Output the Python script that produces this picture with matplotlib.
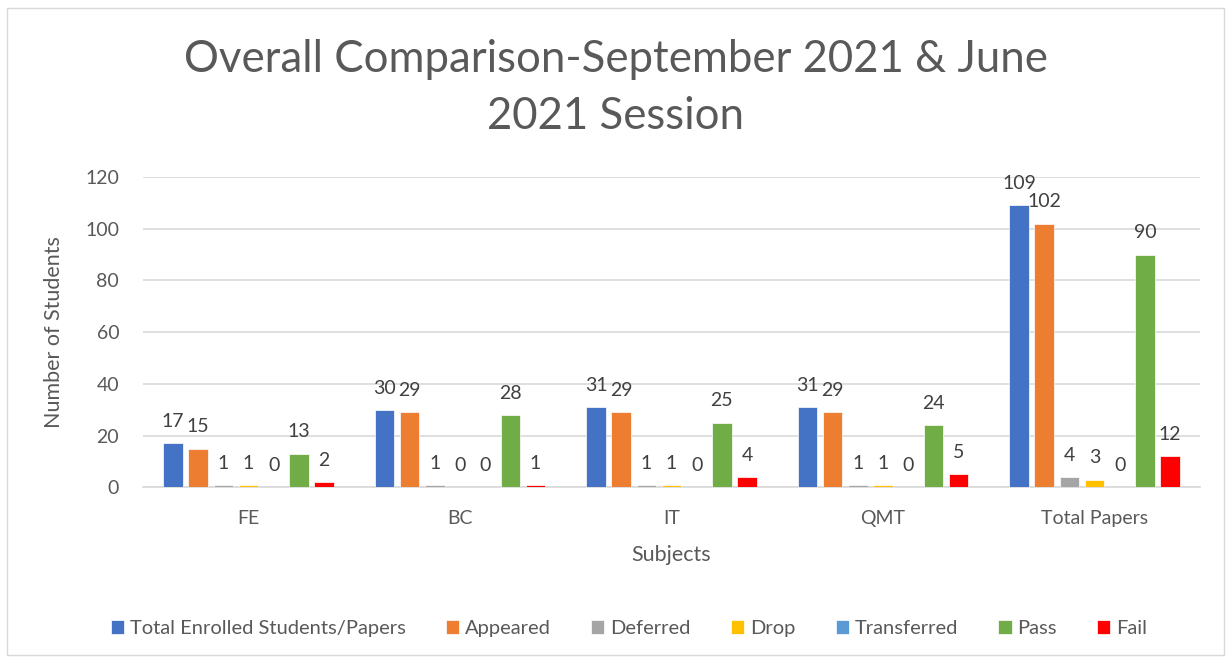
import matplotlib
matplotlib.use("Agg")
import matplotlib.pyplot as plt
import numpy as np
from matplotlib.patches import Rectangle

plt.rcParams['font.family'] = ['Lato', 'DejaVu Sans']

categories = ["FE", "BC", "IT", "QMT", "Total Papers"]
series_names = ["Total Enrolled Students/Papers", "Appeared", "Deferred", "Drop",
                "Transferred", "Pass", "Fail"]
enrolled = [17, 30, 31, 31, 109]
appeared = [15, 29, 29, 29, 102]
deferred = [1, 1, 1, 1, 4]
drop = [1, 0, 1, 1, 3]
transferred = [0, 0, 0, 0, 0]
passed = [13, 28, 25, 24, 90]
fail = [2, 1, 4, 5, 12]
yticks = [0, 20, 40, 60, 80, 100, 120]

series = [enrolled, appeared, deferred, drop, transferred, passed, fail]
colors = ["#4472C4", "#ED7D31", "#A5A5A5", "#FFC000", "#5B9BD5", "#70AD47", "#FF0000"]

fig = plt.figure(figsize=(12.31, 6.63), dpi=100)
fig.patches.append(Rectangle((0.006, 0.012), 0.988, 0.976, transform=fig.transFigure,
                             fill=False, edgecolor="#D9D9D9", linewidth=1))
ax = fig.add_axes([0.116, 0.265, 0.859, 0.468])

x = np.arange(len(categories))
step = 0.119
width = 0.092
for i, (vals, col, name) in enumerate(zip(series, colors, series_names)):
    pos = x + (i - 3) * step
    ax.bar(pos, vals, width, color=col, label=name, zorder=3,
           edgecolor="white", linewidth=0.5)
    for p, v in zip(pos, vals):
        ax.annotate(str(v), (p, v), xytext=(0, 9.5), textcoords="offset points",
                    ha="center", va="bottom", fontsize=14, color="#404040")

ax.set_ylim(0, 120)
ax.set_xlim(-0.5, len(categories) - 0.5)
ax.set_yticks(yticks)
ax.set_xticks(x)
ax.set_xticklabels(categories)
ax.tick_params(axis="both", length=0, labelsize=14, colors="#595959")
ax.tick_params(axis="y", pad=17)
ax.tick_params(axis="x", pad=16)
ax.yaxis.grid(True, color="#D9D9D9", linewidth=1.2, zorder=0)
for s in ["top", "right", "left"]:
    ax.spines[s].set_visible(False)
ax.spines["bottom"].set_color("#D9D9D9")
ax.spines["bottom"].set_linewidth(1.2)

ax.set_xlabel("Subjects", fontsize=15.5, color="#595959", labelpad=13)
ax.set_ylabel("Number of Students", fontsize=15.5, color="#595959", labelpad=15)

fig.text(0.5, 1 - 88 / 663, "Overall Comparison-September 2021 & June\n2021 Session",
         fontsize=31.5, color="#595959", ha="center", va="center", linespacing=1.5)

leg = fig.legend(loc="center", bbox_to_anchor=(0.511, 0.052), ncol=7, frameon=False,
                 fontsize=14.5, handlelength=0.65, handleheight=0.65, handletextpad=0.3,
                 columnspacing=2.0)
for t in leg.get_texts():
    t.set_color("#595959")

fig.savefig("out.png", dpi=100)
